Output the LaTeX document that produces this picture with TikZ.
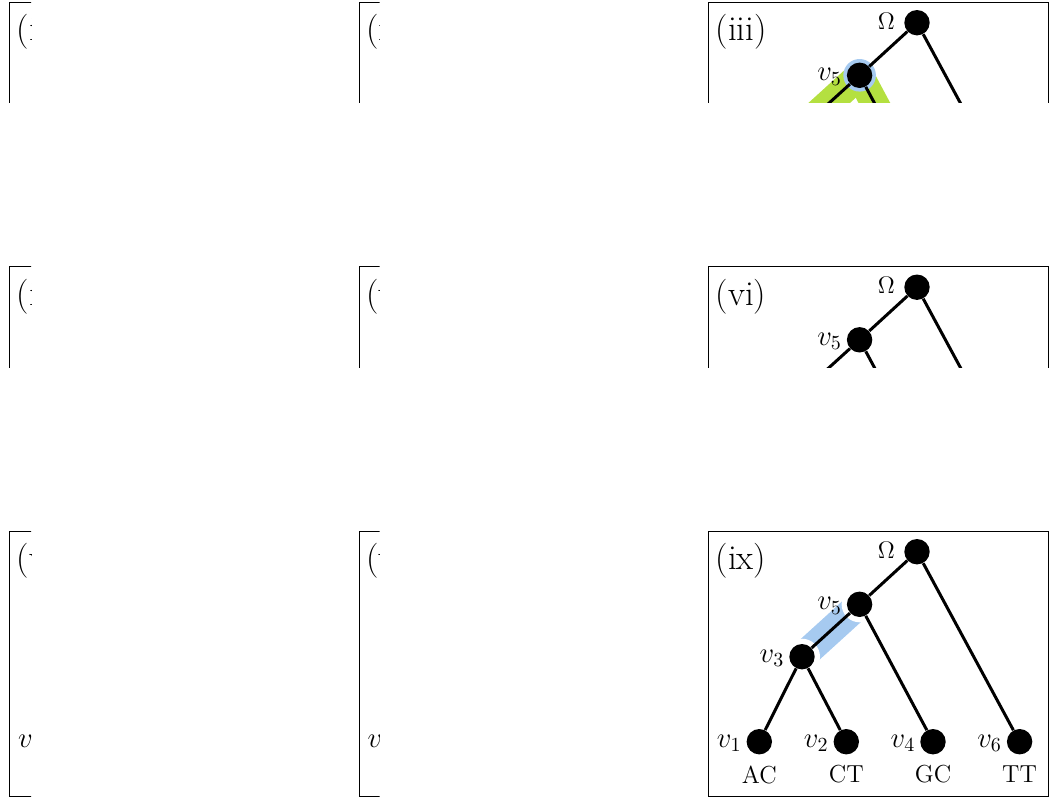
\documentclass[tikz,border=0pt]{standalone}
\definecolor{hlblue}{RGB}{166,202,240}
\definecolor{hlgreen}{RGB}{180,224,64}
\tikzset{
  treenode/.style={circle,fill=black,inner sep=0pt,minimum size=12.7pt},
  treeedge/.style={line width=1.5pt,black},
  panelframe/.style={draw=black,line width=0.5pt},
  panellabel/.style={anchor=west,inner sep=0pt,font=\fontsize{17.5}{19}\selectfont},
  vlabel/.style={anchor=east,inner sep=0pt,font=\fontsize{14}{16}\selectfont},
  leaflabel/.style={inner sep=0pt,font=\fontsize{12.3}{14}\selectfont},
  rootlabel/.style={inner sep=0pt,font=\fontsize{11.5}{13}\selectfont},
  hlband/.style={line width=14pt},
}
\newcommand{\drawtreepanel}[2]{%
  \draw[panelframe] (0,0) rectangle (340.3,265);
  \node[panellabel] (plab) at (7,30) {(#1)};
  \coordinate (cO) at (208.7,20.7);
  \coordinate (c5) at (151.3,73.3);
  \coordinate (c3) at (93.7,125.7);
  \coordinate (c1) at (51,210.7);
  \coordinate (c2) at (138,210.7);
  \coordinate (c4) at (224.7,210.7);
  \coordinate (c6) at (311.3,210.7);
  #2
  \foreach \n in {O,5,3,1,2,4,6} {\node[treenode] (n\n) at (c\n) {};}
  \draw[treeedge] (nO) -- (n5) (n5) -- (n3) (n3) -- (n1) (n3) -- (n2) (n5) -- (n4) (nO) -- (n6);
  \node[rootlabel] (lO) at (178,19) {$\Omega$};
  \node[vlabel] (l5) at (134,74.8) {$v_5$};
  \node[vlabel] (l3) at (76.4,127.2) {$v_3$};
  \node[vlabel] (l1) at (33.7,212.2) {$v_1$};
  \node[vlabel] (l2) at (120.7,212.2) {$v_2$};
  \node[vlabel] (l4) at (207.4,212.2) {$v_4$};
  \node[vlabel] (l6) at (294,212.2) {$v_6$};
  \node[leaflabel] (s1) at (51,243.5) {AC};
  \node[leaflabel] (s2) at (138,243.5) {CT};
  \node[leaflabel] (s3) at (224.7,243.5) {GC};
  \node[leaflabel] (s4) at (311.3,243.5) {TT};
}
\begin{document}
\begin{tikzpicture}[x=0.5pt,y=-0.5pt]
\useasboundingbox (0,0) rectangle (1050,799);
% row 1
\begin{scope}
  \clip (8.5,1) rectangle (31,102);
  \begin{scope}[shift={(9.5,2)}]\drawtreepanel{i}{}\end{scope}
\end{scope}
\begin{scope}
  \clip (358,1) rectangle (379.5,102);
  \begin{scope}[shift={(359,2)}]\drawtreepanel{ii}{}\end{scope}
\end{scope}
\begin{scope}
  \clip (707,1) rectangle (1050,102);
  \begin{scope}[shift={(708.3,2)}]\drawtreepanel{iii}{%
    \draw[hlband,hlgreen] (c5) -- (c3);
    \draw[hlband,hlgreen] (c5) -- (c4);
    \fill[hlblue] (c5) circle (8.15pt);
  }\end{scope}
\end{scope}
% row 2
\begin{scope}
  \clip (8.5,265.5) rectangle (31,367.5);
  \begin{scope}[shift={(9.5,266.5)}]\drawtreepanel{iv}{}\end{scope}
\end{scope}
\begin{scope}
  \clip (358,265.5) rectangle (379.5,367.5);
  \begin{scope}[shift={(359,266.5)}]\drawtreepanel{v}{}\end{scope}
\end{scope}
\begin{scope}
  \clip (707,265.5) rectangle (1050,367.5);
  \begin{scope}[shift={(708.3,266.5)}]\drawtreepanel{vi}{}\end{scope}
\end{scope}
% row 3
\begin{scope}
  \clip (8.5,530) rectangle (31,797);
  \begin{scope}[shift={(9.5,531)}]\drawtreepanel{vii}{}\end{scope}
\end{scope}
\begin{scope}
  \clip (358,530) rectangle (379.5,797);
  \begin{scope}[shift={(359,531)}]\drawtreepanel{viii}{}\end{scope}
\end{scope}
\begin{scope}
  \clip (707,530) rectangle (1050,797);
  \begin{scope}[shift={(708.3,531)}]\drawtreepanel{ix}{%
    \draw[hlband,hlblue] (c3) -- (c5);
    \fill[white] (c3) circle (9pt);
    \fill[white] (c5) circle (9pt);
  }\end{scope}
\end{scope}
\end{tikzpicture}
\end{document}
